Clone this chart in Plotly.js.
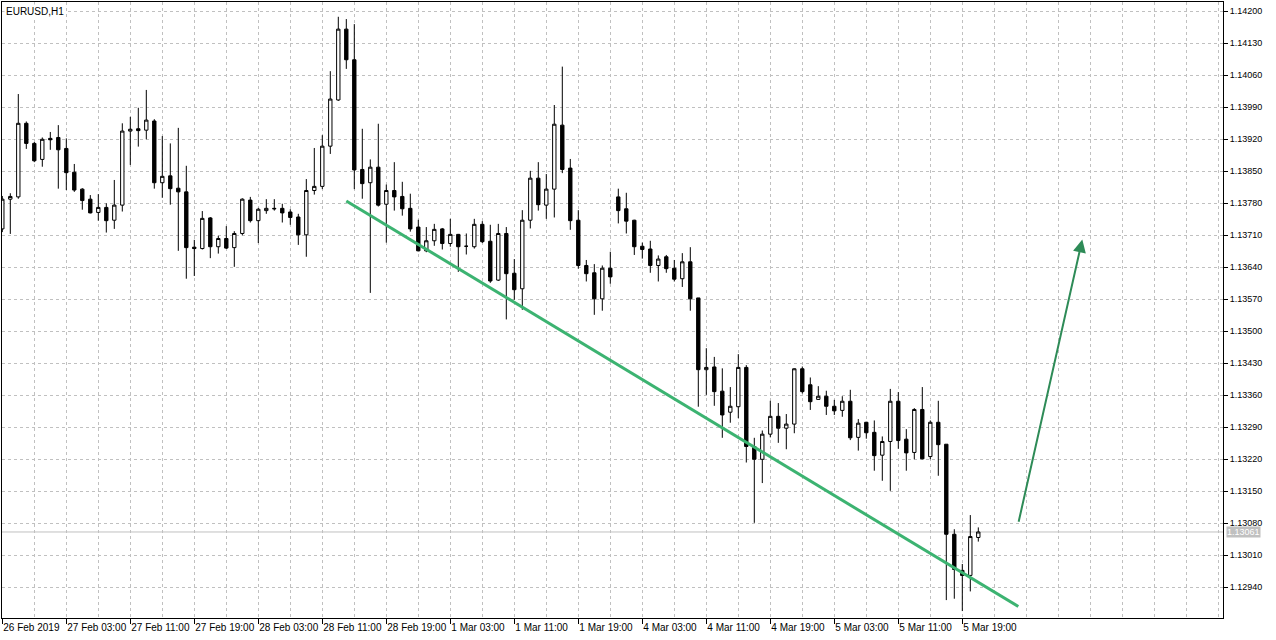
<!DOCTYPE html>
<html>
<head>
<meta charset="utf-8">
<script src="https://cdn.plot.ly/plotly-3.0.1.min.js"></script>
<style>
  html, body { margin: 0; padding: 0; background: #fff; }
  #chart { width: 1276px; height: 640px; }
</style>
</head>
<body>
<div id="chart"></div>
<script>
// EURUSD H1 bars, 26 Feb 2019 19:00 -> 5 Mar 2019 21:00 (bar index on x)
const openPrices = [
  1.13724, 1.13789, 1.13794, 1.13955, 1.13911, 1.13876, 1.13922, 1.13924, 1.13900, 1.13848,
  1.13811, 1.13789, 1.13760, 1.13771, 1.13743, 1.13776, 1.13938, 1.13943, 1.13940, 1.13960,
  1.13825, 1.13840, 1.13813, 1.13805, 1.13684, 1.13681, 1.13748, 1.13685, 1.13703, 1.13683,
  1.13714, 1.13787, 1.13742, 1.13764, 1.13769, 1.13769, 1.13761, 1.13750, 1.13711, 1.13808,
  1.13817, 1.13905, 1.14006, 1.14161, 1.14094, 1.13854, 1.13825, 1.13859, 1.13778, 1.13808,
  1.13795, 1.13769, 1.13728, 1.13676, 1.13698, 1.13724, 1.13692, 1.13712, 1.13686, 1.13685,
  1.13734, 1.13697, 1.13612, 1.13714, 1.13627, 1.13593, 1.13743, 1.13835, 1.13776, 1.13811,
  1.13951, 1.13857, 1.13743, 1.13644, 1.13628, 1.13571, 1.13638, 1.13794, 1.13768, 1.13743,
  1.13686, 1.13680, 1.13644, 1.13663, 1.13638, 1.13615, 1.13652, 1.13573, 1.13416, 1.13422,
  1.13369, 1.13323, 1.13335, 1.13421, 1.13248, 1.13220, 1.13275, 1.13314, 1.13288, 1.13297,
  1.13418, 1.13383, 1.13351, 1.13358, 1.13336, 1.13327, 1.13347, 1.13268, 1.13301, 1.13279,
  1.13229, 1.13259, 1.13347, 1.13264, 1.13235, 1.13329, 1.13226, 1.13301, 1.13253, 1.13056,
  1.12977, 1.12966, 1.13049
];
const highPrices = [
  1.13796, 1.13802, 1.14019, 1.13959, 1.13914, 1.13924, 1.13936, 1.13951, 1.13922, 1.13866,
  1.13813, 1.13798, 1.13800, 1.13780, 1.13831, 1.13955, 1.13969, 1.13989, 1.14028, 1.13964,
  1.13927, 1.13911, 1.13945, 1.13862, 1.13700, 1.13763, 1.13750, 1.13709, 1.13730, 1.13719,
  1.13791, 1.13794, 1.13770, 1.13789, 1.13789, 1.13779, 1.13767, 1.13757, 1.13833, 1.13901,
  1.13929, 1.14069, 1.14188, 1.14183, 1.14172, 1.13943, 1.13876, 1.13954, 1.13821, 1.13870,
  1.13827, 1.13801, 1.13744, 1.13728, 1.13735, 1.13726, 1.13746, 1.13713, 1.13714, 1.13746,
  1.13741, 1.13733, 1.13735, 1.13728, 1.13658, 1.13765, 1.13851, 1.13870, 1.13844, 1.13995,
  1.14079, 1.13877, 1.13765, 1.13656, 1.13647, 1.13644, 1.13674, 1.13812, 1.13803, 1.13744,
  1.13694, 1.13698, 1.13666, 1.13667, 1.13656, 1.13671, 1.13684, 1.13573, 1.13463, 1.13444,
  1.13419, 1.13378, 1.13450, 1.13426, 1.13267, 1.13283, 1.13348, 1.13343, 1.13319, 1.13419,
  1.13423, 1.13399, 1.13380, 1.13370, 1.13350, 1.13358, 1.13372, 1.13308, 1.13302, 1.13305,
  1.13270, 1.13374, 1.13367, 1.13286, 1.13332, 1.13378, 1.13305, 1.13348, 1.13253, 1.13067,
  1.12991, 1.13098, 1.13071
];
const lowPrices = [
  1.13717, 1.13713, 1.13790, 1.13899, 1.13870, 1.13860, 1.13897, 1.13812, 1.13809, 1.13805,
  1.13766, 1.13758, 1.13742, 1.13716, 1.13724, 1.13762, 1.13864, 1.13904, 1.13920, 1.13812,
  1.13792, 1.13777, 1.13676, 1.13615, 1.13621, 1.13679, 1.13660, 1.13670, 1.13680, 1.13641,
  1.13710, 1.13738, 1.13693, 1.13757, 1.13764, 1.13738, 1.13733, 1.13689, 1.13663, 1.13799,
  1.13811, 1.13888, 1.14004, 1.14074, 1.13811, 1.13790, 1.13584, 1.13773, 1.13694, 1.13764,
  1.13753, 1.13718, 1.13675, 1.13673, 1.13687, 1.13679, 1.13685, 1.13630, 1.13668, 1.13681,
  1.13693, 1.13606, 1.13610, 1.13526, 1.13569, 1.13547, 1.13725, 1.13764, 1.13746, 1.13749,
  1.13846, 1.13722, 1.13637, 1.13609, 1.13536, 1.13545, 1.13604, 1.13736, 1.13714, 1.13667,
  1.13659, 1.13628, 1.13609, 1.13628, 1.13609, 1.13597, 1.13545, 1.13335, 1.13361, 1.13337,
  1.13267, 1.13300, 1.13310, 1.13213, 1.13081, 1.13168, 1.13268, 1.13256, 1.13242, 1.13277,
  1.13364, 1.13328, 1.13350, 1.13317, 1.13317, 1.13313, 1.13262, 1.13239, 1.13265, 1.13195,
  1.13173, 1.13151, 1.13243, 1.13195, 1.13220, 1.13220, 1.13220, 1.13184, 1.12912, 1.12915,
  1.12888, 1.12931, 1.13040
];
const closePrices = [
  1.13789, 1.13795, 1.13955, 1.13911, 1.13873, 1.13920, 1.13919, 1.13897, 1.13847, 1.13809,
  1.13786, 1.13759, 1.13771, 1.13742, 1.13776, 1.13938, 1.13942, 1.13939, 1.13962, 1.13825,
  1.13839, 1.13812, 1.13805, 1.13683, 1.13681, 1.13747, 1.13685, 1.13703, 1.13682, 1.13714,
  1.13789, 1.13742, 1.13767, 1.13769, 1.13768, 1.13759, 1.13749, 1.13711, 1.13808, 1.13817,
  1.13905, 1.14008, 1.14161, 1.14094, 1.13853, 1.13823, 1.13859, 1.13776, 1.13808, 1.13794,
  1.13768, 1.13724, 1.13676, 1.13698, 1.13723, 1.13692, 1.13712, 1.13685, 1.13686, 1.13734,
  1.13696, 1.13610, 1.13714, 1.13626, 1.13591, 1.13743, 1.13835, 1.13777, 1.13811, 1.13953,
  1.13854, 1.13742, 1.13644, 1.13626, 1.13571, 1.13638, 1.13619, 1.13764, 1.13741, 1.13685,
  1.13679, 1.13644, 1.13658, 1.13637, 1.13614, 1.13652, 1.13571, 1.13416, 1.13421, 1.13368,
  1.13317, 1.13336, 1.13421, 1.13248, 1.13220, 1.13275, 1.13314, 1.13288, 1.13297, 1.13418,
  1.13368, 1.13346, 1.13358, 1.13336, 1.13326, 1.13347, 1.13267, 1.13299, 1.13278, 1.13228,
  1.13259, 1.13347, 1.13261, 1.13234, 1.13329, 1.13221, 1.13301, 1.13252, 1.13056, 1.12979,
  1.12966, 1.13051, 1.13061
];

// time labels, one every 8 bars
const labelBars = [0, 8, 16, 24, 32, 40, 48, 56, 64, 72, 80, 88, 96, 104, 112, 120];
const dateLabels = [
  "26 Feb 2019", "27 Feb 03:00", "27 Feb 11:00", "27 Feb 19:00", "28 Feb 03:00",
  "28 Feb 11:00", "28 Feb 19:00", "1 Mar 03:00", "1 Mar 11:00", "1 Mar 19:00",
  "4 Mar 03:00", "4 Mar 11:00", "4 Mar 19:00", "5 Mar 03:00", "5 Mar 11:00", "5 Mar 19:00"
];

// drawn objects
const trendBars = [43, 127];
const trendPrices = [1.13785, 1.12898];
const arrowBars = [127, 135];
const arrowPrices = [1.13080, 1.13701];
const lastPrice = 1.13061;
const symbolTitle = "EURUSD,H1";

const bars = openPrices.map((_, i) => i);

const gridStyle = { gridcolor: "#c0c0c0", griddash: "3px,3px", gridwidth: 1 };

const traces = [
  {
    type: "candlestick",
    x: bars,
    open: openPrices,
    high: highPrices,
    low: lowPrices,
    close: closePrices,
    increasing: { line: { color: "#000000", width: 1 }, fillcolor: "#ffffff" },
    decreasing: { line: { color: "#000000", width: 1 }, fillcolor: "#000000" },
    whiskerwidth: 0,
    hoverinfo: "skip",
  },
  {
    type: "scatter",
    mode: "lines",
    x: trendBars,
    y: trendPrices,
    line: { color: "#3cb371", width: 3 },
    hoverinfo: "skip",
  },
];

const layout = {
  width: 1276,
  height: 640,
  margin: { l: 2, r: 53, t: 2, b: 22 },
  paper_bgcolor: "#ffffff",
  plot_bgcolor: "#ffffff",
  showlegend: false,
  hovermode: false,
  dragmode: false,
  boxgap: 0.4,
  font: { family: "Liberation Sans, Arial, sans-serif", size: 10, color: "#000000" },
  xaxis: {
    range: [-0.0375, 152.5875],
    tickmode: "array",
    tickvals: labelBars,
    ticktext: dateLabels,
    tickangle: 0,
    ticks: "outside",
    ticklen: 5,
    tickcolor: "#000000",
    ticklabelposition: "outside right",
    ticklabeloverflow: "allow",
    tickfont: { size: 10 },
    showgrid: true,
    ...gridStyle,
    minor: { tickmode: "linear", tick0: 0, dtick: 4, showgrid: true, ticks: "", ...gridStyle },
    showline: true,
    linecolor: "#000000",
    linewidth: 1,
    mirror: true,
    zeroline: false,
    rangeslider: { visible: false },
    fixedrange: true,
    automargin: false,
  },
  yaxis: {
    side: "right",
    range: [1.1287284, 1.1422034],
    tickmode: "linear",
    tick0: 1.1294,
    dtick: 0.0007,
    tickformat: ".5f",
    ticks: "outside",
    ticklen: 4,
    tickcolor: "#000000",
    tickfont: { size: 9 },
    showgrid: true,
    ...gridStyle,
    showline: true,
    linecolor: "#000000",
    linewidth: 1,
    mirror: true,
    zeroline: false,
    fixedrange: true,
    automargin: false,
  },
  shapes: [
    {
      type: "line",
      xref: "paper",
      x0: 0,
      x1: 1,
      yref: "y",
      y0: lastPrice,
      y1: lastPrice,
      line: { color: "#c0c0c0", width: 1 },
      layer: "below",
    },
  ],
  annotations: [
    {
      text: symbolTitle,
      xref: "paper",
      yref: "paper",
      x: 0,
      y: 1,
      xanchor: "left",
      yanchor: "top",
      xshift: 2,
      yshift: -2,
      showarrow: false,
      bgcolor: "#ffffff",
      font: { size: 10, color: "#000000" },
    },
    {
      text: lastPrice.toFixed(5),
      xref: "paper",
      yref: "y",
      x: 1,
      y: lastPrice,
      xanchor: "left",
      xshift: 3,
      showarrow: false,
      bgcolor: "#c0c0c0",
      borderpad: 0,
      font: { size: 9, color: "#ffffff" },
    },
    {
      text: "",
      x: arrowBars[1],
      y: arrowPrices[1],
      ax: arrowBars[0],
      ay: arrowPrices[0],
      xref: "x",
      yref: "y",
      axref: "x",
      ayref: "y",
      showarrow: true,
      arrowhead: 2,
      arrowsize: 1.3,
      arrowwidth: 2,
      arrowcolor: "#2e8b57",
      standoff: 0,
    },
  ],
};

Plotly.newPlot("chart", traces, layout, { displayModeBar: false, staticPlot: true });
</script>
</body>
</html>
